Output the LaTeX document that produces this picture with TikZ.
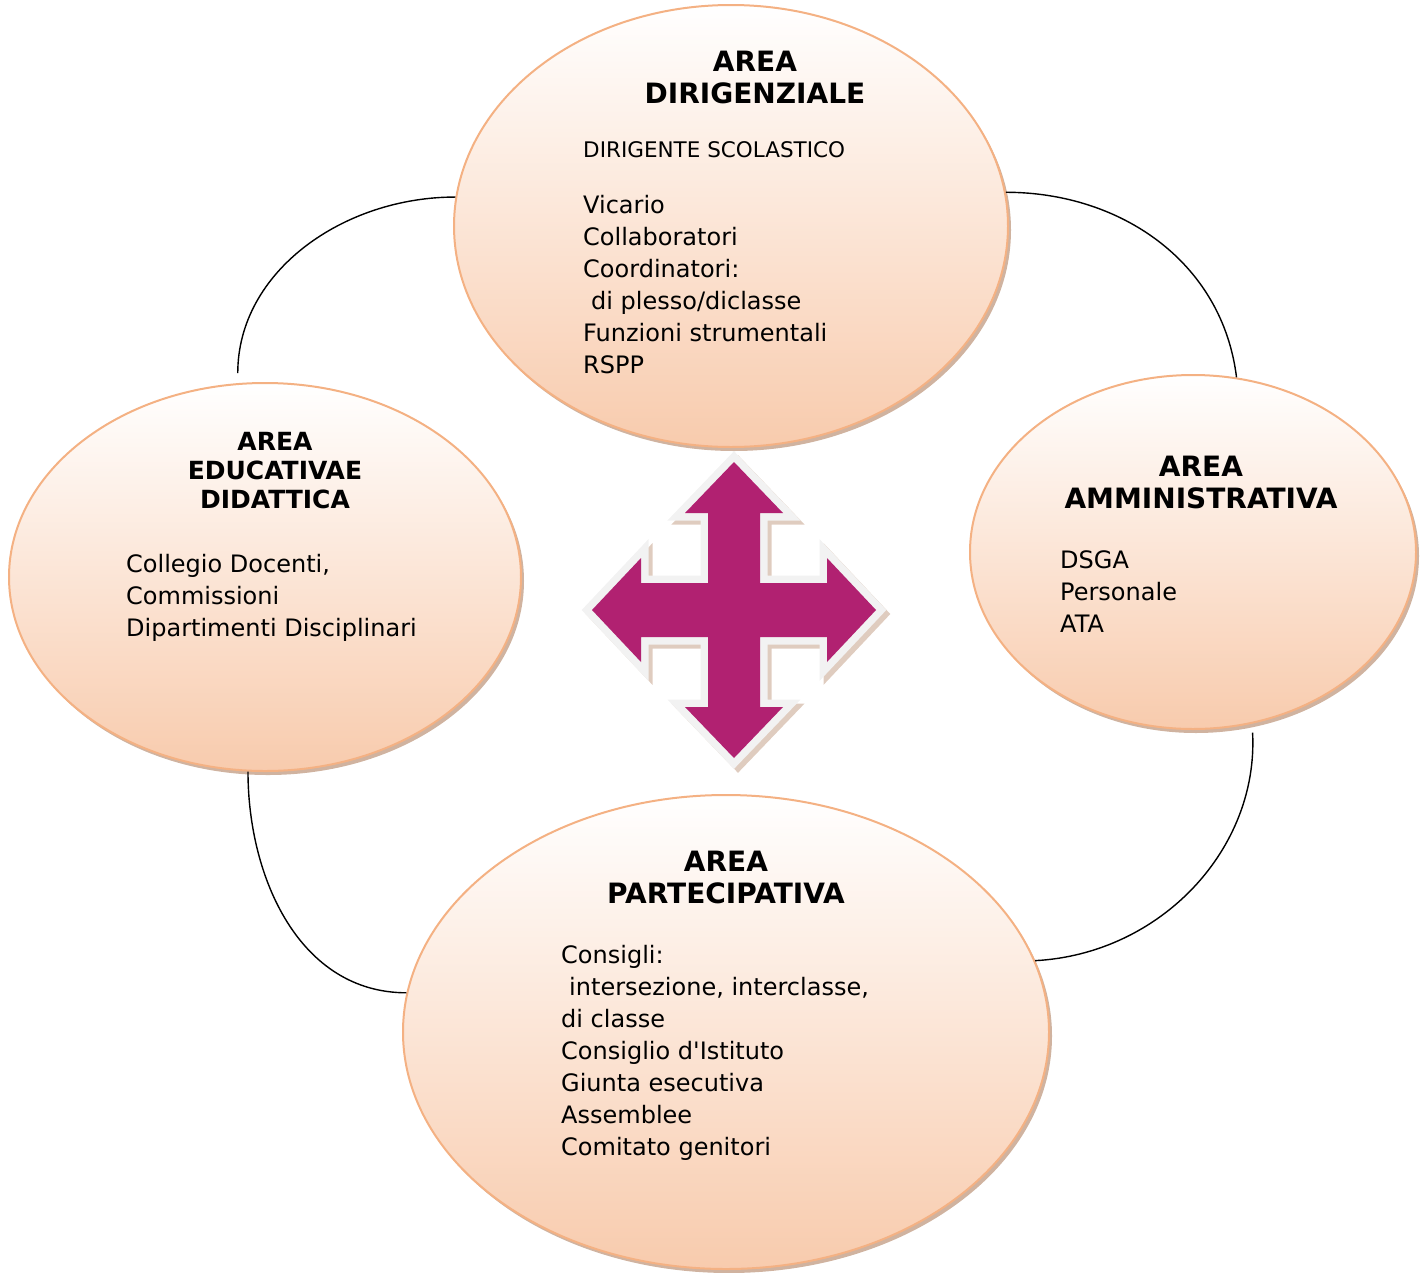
\documentclass[tikz,border=0pt]{standalone}
\usepackage{fontspec}
\setmainfont{DejaVu Sans}
\usetikzlibrary{shapes.geometric, shadows}

\definecolor{areaedge}{RGB}{244,177,131}
\definecolor{areafill}{RGB}{248,203,173}
\definecolor{arrowfill}{RGB}{177,33,113}
\definecolor{arrowedge}{RGB}{242,242,242}
\definecolor{shadebrown}{RGB}{176,128,96}

\tikzset{
	area/.style = {ellipse, draw = areaedge, line width = 2pt, top color = white, bottom color = areafill, inner sep = 0pt,
		drop shadow = {shadow xshift = 3pt, shadow yshift = -4pt, fill = shadebrown, opacity = 0.6}},
	areatitle/.style = {font = \bfseries\fontsize{28}{32}\selectfont, align = center, anchor = north, inner sep = 0pt},
	areatext/.style = {font = \fontsize{24}{32}\selectfont, align = left, anchor = north west, inner sep = 0pt},
	link/.style = {line width = 1.4pt}
}

% four-way arrow, centred on the origin
\newcommand{\crossarrow}{(0, 148) -- (49, 97) -- (26, 97) -- (26, 27) -- (93, 27) -- (93, 52) -- (142, 0) -- (93, -52) -- (93, -27)
	-- (26, -27) -- (26, -97) -- (49, -97) -- (0, -148) -- (-49, -97) -- (-26, -97) -- (-26, -27) -- (-93, -27) -- (-93, -52)
	-- (-142, 0) -- (-93, 52) -- (-93, 27) -- (-26, 27) -- (-26, 97) -- (-49, 97) -- cycle}

\begin{document}
\begin{tikzpicture}[x = 1pt, y = 1pt]

\useasboundingbox (0, 0) rectangle (1427, -1272);

% the four areas
\node [area, minimum width = 554pt, minimum height = 442pt] (dir) at (731, -226) {};
\node [area, minimum width = 512pt, minimum height = 388pt] (edu) at (265, -577) {};
\node [area, minimum width = 446pt, minimum height = 354pt] (adm) at (1193, -552) {};
\node [area, minimum width = 646pt, minimum height = 474pt] (par) at (726, -1032) {};

% links round the ring
\draw [link, shorten > = 10pt] (dir.174) to [out = 180, in = 90] (edu.98);
\draw [link] (dir.7) to [out = 0, in = 97] (adm.76);
\draw [link, shorten < = 9pt] (adm.-71) to [out = -87, in = 3] (par.13);
\draw [link] (edu.-95) to [out = -90, in = 180] (par.173.5);

% centre arrow
\begin{scope}[shift = {(734, -610)}]
	\draw [shadebrown, fill = shadebrown, opacity = 0.4, line width = 15pt, line join = miter] [shift = {(4, -4)}] \crossarrow;
	\draw [arrowedge, line width = 15pt, line join = miter] \crossarrow;
	\fill [arrowfill] \crossarrow;
\end{scope}

% texts
\node [areatitle] (dirtitle) at (755, -51) {AREA\\DIRIGENZIALE};
\node [areatext, font = \fontsize{21.5}{32}\selectfont] (dirhead) at (583, -141) {DIRIGENTE SCOLASTICO};
\node [areatext] (dirtext) at (583, -195) {Vicario\\Collaboratori\\Coordinatori:\\\hspace{8pt}di plesso/diclasse\\Funzioni strumentali\\RSPP};

\node [areatitle, font = \bfseries\fontsize{25}{29}\selectfont] (edutitle) at (275, -432) {AREA\\EDUCATIVAE\\DIDATTICA};
\node [areatext] (edutext) at (126, -554) {Collegio Docenti,\\Commissioni\\Dipartimenti Disciplinari};

\node [areatitle] (admtitle) at (1201, -456) {AREA\\AMMINISTRATIVA};
\node [areatext] (admtext) at (1060, -550) {DSGA\\Personale\\ATA};

\node [areatitle] (partitle) at (726, -851) {AREA\\PARTECIPATIVA};
\node [areatext] (partext) at (561, -945) {Consigli:\\\hspace{8pt}intersezione, interclasse,\\di classe\\Consiglio d\textquotesingle Istituto\\Giunta esecutiva\\Assemblee\\Comitato genitori};

\end{tikzpicture}
\end{document}
